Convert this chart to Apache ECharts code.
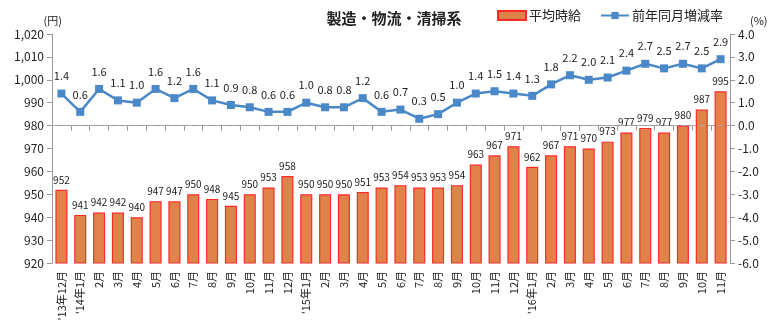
<!DOCTYPE html>
<html><head><meta charset="utf-8">
<script src="https://cdn.jsdelivr.net/npm/echarts@6/dist/echarts.min.js"></script>
<style>html,body{margin:0;padding:0;background:#fff}#c{width:775px;height:330px}</style>
</head><body><div id="c"></div>
<script>
const categories = ["'13年12月","'14年1月","2月","3月","4月","5月","6月","7月","8月","9月","10月","11月","12月","'15年1月","2月","3月","4月","5月","6月","7月","8月","9月","10月","11月","12月","'16年1月","2月","3月","4月","5月","6月","7月","8月","9月","10月","11月"];
const wages = [952,941,942,942,940,947,947,950,948,945,950,953,958,950,950,950,951,953,954,953,953,954,963,967,971,962,967,971,970,973,977,979,977,980,987,995];
const rates = [1.4,0.6,1.6,1.1,1.0,1.6,1.2,1.6,1.1,0.9,0.8,0.6,0.6,1.0,0.8,0.8,1.2,0.6,0.7,0.3,0.5,1.0,1.4,1.5,1.4,1.3,1.8,2.2,2.0,2.1,2.4,2.7,2.5,2.7,2.5,2.9];
const font = "'Noto Sans CJK JP', 'Noto Sans', sans-serif";
const chart = echarts.init(document.getElementById('c'));
chart.setOption({
  animation:false,
  textStyle:{fontFamily:font},
  title:{text:'製造・物流・清掃系',left:389,top:6,textAlign:'center',textStyle:{fontSize:15,fontWeight:'bold',color:'#222',fontFamily:font}},
  legend:{top:9,left:497,padding:0,itemGap:19,itemWidth:28,itemHeight:9,textStyle:{fontSize:13,color:'#222',fontFamily:font,padding:[0,0,0,-2]},
    data:[{name:'平均時給',icon:'rect'},{name:'前年同月増減率'}]},
  grid:{left:52,right:45,top:34,bottom:67},
  xAxis:{type:'category',data:categories,boundaryGap:true,
    axisLine:{lineStyle:{color:'#999'}},axisTick:{show:true,alignWithLabel:false,lineStyle:{color:'#999'},length:5},
    axisLabel:{rotate:90,interval:0,fontSize:11,color:'#222',fontFamily:font,margin:8}},
  yAxis:[
    {type:'value',min:920,max:1020,interval:10,name:'(円)',nameLocation:'end',nameGap:8,nameTextStyle:{fontSize:11,color:'#222',align:'right',padding:[0,-10,0,0]},
     axisLine:{show:true,lineStyle:{color:'#999'}},axisTick:{show:true,lineStyle:{color:'#999'}},splitLine:{show:false},
     axisLabel:{fontSize:12,color:'#222',formatter:v=>v.toLocaleString('en-US')}},
    {type:'value',min:-6,max:4,interval:1,name:'(%)',nameLocation:'end',nameGap:8,nameTextStyle:{fontSize:11,color:'#222',align:'left',padding:[0,0,0,20]},
     axisLine:{show:true,lineStyle:{color:'#999'}},axisTick:{show:true,lineStyle:{color:'#999'}},splitLine:{show:false},
     axisLabel:{fontSize:12,color:'#222',formatter:v=>v.toFixed(1)}}
  ],
  series:[
    {name:'平均時給',type:'bar',data:wages,yAxisIndex:0,barWidth:'64%',
     itemStyle:{color:'#E0834A',borderColor:'#FF2A2A',borderWidth:1.2},
     label:{show:true,position:'top',fontSize:10,color:'#222',distance:5},
     markLine:{silent:true,symbol:'none',label:{show:false},lineStyle:{color:'#aaa',type:[5,4],width:1},data:[{yAxis:980}]}},
    {name:'前年同月増減率',type:'line',data:rates,yAxisIndex:1,symbol:'rect',symbolSize:8,
     lineStyle:{color:'#4A88C7',width:2.5},itemStyle:{color:'#4A88C7'},
     label:{show:true,position:'top',fontSize:11,color:'#222',distance:8,formatter:p=>p.value.toFixed(1)}}
  ]
});
</script></body></html>
